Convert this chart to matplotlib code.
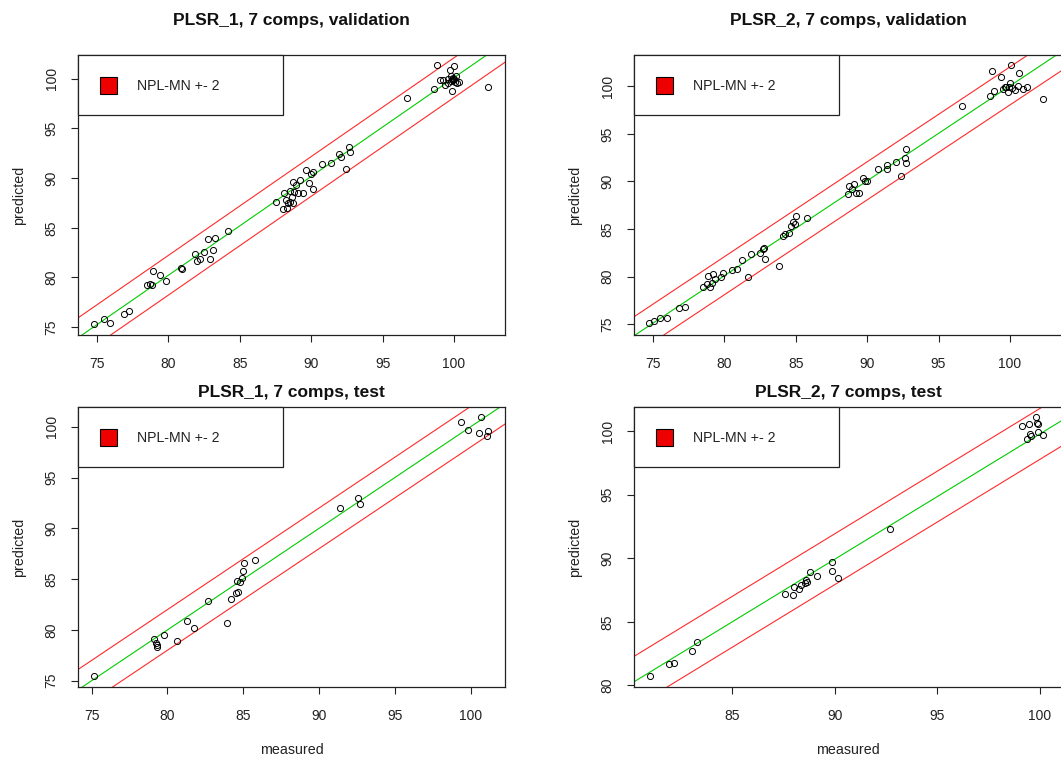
import numpy as np
import matplotlib
matplotlib.use("Agg")
import matplotlib.pyplot as plt
from matplotlib.patches import Rectangle

plt.rcParams['font.family'] = ['Liberation Sans', 'DejaVu Sans']

# --- data ---
titles = ["PLSR_1, 7 comps, validation", "PLSR_2, 7 comps, validation",
          "PLSR_1, 7 comps, test", "PLSR_2, 7 comps, test"]
legend_label = "NPL-MN +- 2"
band = 2.0

# PLSR_1 validation
val1_measured = [74.8, 75.47, 75.93, 76.87, 77.26, 78.5, 78.73, 78.85, 78.92, 79.38, 79.85,
                 80.9, 80.95, 81.88, 82.0, 82.18, 82.46, 82.74, 82.88, 83.12, 83.28, 84.17,
                 87.55, 88.0, 88.06, 88.34, 88.48, 88.64, 88.71, 88.8, 88.95, 89.1, 89.23,
                 89.46, 89.65, 89.88, 89.97, 90.11, 90.16, 88.3, 88.5, 88.7, 88.2,
                 90.74, 91.39, 91.98, 92.07, 92.42, 92.68, 92.72,
                 96.69, 98.6, 98.79, 99.02, 99.37, 99.56, 99.72, 99.77, 99.88, 99.95, 100.0,
                 100.07, 100.14, 100.23, 100.37, 99.25, 99.6, 99.84, 99.8, 100.0, 99.9, 102.4]
val1_predicted = [75.27, 75.77, 75.44, 76.35, 76.58, 79.27, 79.37, 79.27, 80.65, 80.28, 79.61,
                  80.96, 80.82, 82.4, 81.63, 81.9, 82.57, 83.82, 81.9, 82.8, 83.95, 84.69,
                  87.62, 86.88, 88.53, 87.52, 88.7, 88.12, 89.64, 88.63, 89.3, 88.53, 89.8,
                  88.53, 90.81, 89.53, 90.41, 90.58, 88.93, 86.95, 87.6, 87.45, 87.8,
                  91.42, 91.55, 92.43, 92.16, 90.88, 93.17, 92.66,
                  98.05, 98.96, 101.35, 99.9, 99.4, 99.97, 100.91, 100.24, 98.82, 99.9, 101.31,
                  99.73, 100.24, 99.56, 99.73, 99.9, 99.56, 99.97, 99.8, 99.95, 100.1, 99.13]

# PLSR_2 validation
val2_measured = [74.77, 75.09, 75.51, 75.98, 76.87, 77.26, 78.5, 78.78, 78.89, 79.01, 79.13,
                 79.24, 79.36, 79.76, 79.9, 80.57, 80.88, 81.25, 81.69, 81.86, 82.51, 82.7,
                 82.79, 82.86, 83.86, 84.14, 84.26, 84.56, 84.65, 84.79, 84.96, 85.03, 85.77,
                 88.69, 88.76, 88.92, 89.09, 89.23, 89.46, 89.69, 89.86, 90.02, 90.74, 91.42,
                 91.42, 92.0, 92.35, 92.65, 92.7, 92.72, 96.67, 98.6, 98.72, 98.9, 99.35,
                 99.53, 99.72, 99.88, 100.0, 100.05, 99.95, 100.12, 100.35, 100.58, 100.65,
                 100.93, 101.21, 102.33, 99.65]
val2_predicted = [75.07, 75.28, 75.63, 75.63, 76.68, 76.78, 78.95, 79.2, 80.07, 78.95, 79.37,
                  80.24, 79.72, 79.9, 80.42, 80.7, 80.77, 81.71, 80.0, 82.41, 82.52, 82.94,
                  83.04, 81.82, 81.12, 84.27, 84.44, 84.62, 85.31, 85.73, 85.49, 86.36, 86.12,
                  88.64, 89.51, 89.23, 89.69, 88.74, 88.74, 90.38, 90.03, 90.03, 91.26, 91.78,
                  91.26, 92.06, 90.56, 92.48, 93.43, 91.96, 97.97, 99.02, 101.57, 99.48, 100.98,
                  99.72, 99.93, 99.37, 100.35, 102.2, 99.93, 99.83, 99.65, 100.07, 101.4,
                  99.72, 99.93, 98.67, 99.93]

# PLSR_1 test
test1_measured = [75.18, 79.11, 79.24, 79.33, 79.29, 79.77, 80.61, 81.31, 81.75, 82.7, 83.95,
                  84.17, 84.5, 84.67, 84.61, 84.78, 84.94, 84.96, 85.05, 85.77, 91.38, 92.59,
                  92.7, 99.34, 99.8, 100.57, 100.66, 101.06, 101.17]
test1_predicted = [75.49, 79.07, 78.67, 78.28, 78.51, 79.49, 78.9, 80.91, 80.22, 82.87, 80.64,
                   83.0, 83.66, 83.76, 84.84, 84.74, 85.07, 85.83, 86.55, 86.88, 91.96, 92.95,
                   92.36, 100.43, 99.67, 99.41, 100.92, 99.11, 99.61]

# PLSR_2 test
test2_measured = [80.99, 81.93, 82.16, 83.05, 83.26, 87.57, 87.97, 88.0, 88.27, 88.33, 88.54,
                  88.59, 88.62, 88.79, 89.14, 89.84, 89.84, 90.17, 92.69, 99.11, 99.35, 99.46,
                  99.51, 99.59, 99.79, 99.84, 99.92, 99.92, 100.16]
test2_predicted = [80.73, 81.68, 81.78, 82.73, 83.39, 87.17, 87.11, 87.72, 87.56, 87.9, 88.03,
                   88.29, 88.16, 88.95, 88.64, 89.68, 89.0, 88.48, 92.31, 100.42, 99.37, 100.58,
                   99.79, 99.58, 101.1, 100.68, 100.58, 99.97, 99.69]

# fitted line per panel: intercept, slope
fit_intercepts = [0.62, 0.15, 0.0, 1.28]
fit_slopes = [0.995, 0.999, 1.0, 0.985]

measured = [val1_measured, val2_measured, test1_measured, test2_measured]
predicted = [val1_predicted, val2_predicted, test1_predicted, test2_predicted]

# axis ranges per panel
xlims = [(73.67, 103.57), (73.69, 103.64), (74.1, 102.26), (80.2, 101.08)]
ylims = [(74.2, 102.4), (73.85, 103.3), (74.38, 101.94), (79.87, 101.9)]
xticks = [[75, 80, 85, 90, 95, 100]] * 3 + [[85, 90, 95, 100]]
yticks = [[75, 80, 85, 90, 95, 100]] * 3 + [[80, 85, 90, 95, 100]]

# --- layout in pixels ---
W, H = 1061, 757
fig = plt.figure(figsize=(W / 100, H / 100), dpi=100)
boxes = [(78, 55, 427, 280), (634, 55, 428, 280), (78, 407, 427, 280), (634, 407, 428, 280)]
title_off = [34, 34, 15, 15]

for i, (px, py, pw, ph) in enumerate(boxes):
    ax = fig.add_axes([px / W, 1 - (py + ph) / H, pw / W, ph / H])
    ax.set_xlim(*xlims[i])
    ax.set_ylim(*ylims[i])

    a, b = fit_intercepts[i], fit_slopes[i]
    ax.axline((0, a), slope=b, color='#00cc00', lw=0.8)
    ax.axline((0, a + band), slope=b, color='#ff2a2a', lw=0.8)
    ax.axline((0, a - band), slope=b, color='#ff2a2a', lw=0.8)
    ax.plot(measured[i], predicted[i], 'o', mfc='none', mec='black', ms=4.4, mew=0.7)

    ax.set_xticks(xticks[i])
    ax.set_yticks(yticks[i])
    ax.tick_params(direction='out', length=5, width=0.8, labelsize=10, colors='#222222')
    ax.tick_params(axis='x', pad=10.5)
    ax.tick_params(axis='y', pad=9)
    for lab in ax.get_yticklabels():
        lab.set_rotation(90)
        lab.set_va('center')
    for s in ax.spines.values():
        s.set_linewidth(0.9)
        s.set_color('#222222')

    ax.text(0.5, 1 + title_off[i] / ph, titles[i], transform=ax.transAxes,
            ha='center', va='center', fontsize=12.5, fontweight='bold', color='#111111')
    ax.text(-(78 - 19) / pw, 0.5, "predicted", transform=ax.transAxes, rotation=90,
            ha='center', va='center', fontsize=10.3, color='#222222')
    if i >= 2:
        ax.text(0.5, -(750 - 687) / ph, "measured", transform=ax.transAxes,
                ha='center', va='center', fontsize=10.3, color='#222222')

    # legend box like R's legend()
    ax.add_patch(Rectangle((0, 1 - 60 / ph), 205 / pw, 60 / ph, transform=ax.transAxes,
                           facecolor='white', edgecolor='#222222', lw=0.9, zorder=5,
                           clip_on=False))
    ax.add_patch(Rectangle((22 / pw, 1 - 39 / ph), 17 / pw, 17 / ph, transform=ax.transAxes,
                           facecolor='#ee0000', edgecolor='black', lw=0.8, zorder=6))
    ax.text(59 / pw, 1 - 31 / ph, legend_label, transform=ax.transAxes,
            ha='left', va='center', fontsize=10.2, color='#222222', zorder=6)

fig.savefig("out.png", dpi=100)
